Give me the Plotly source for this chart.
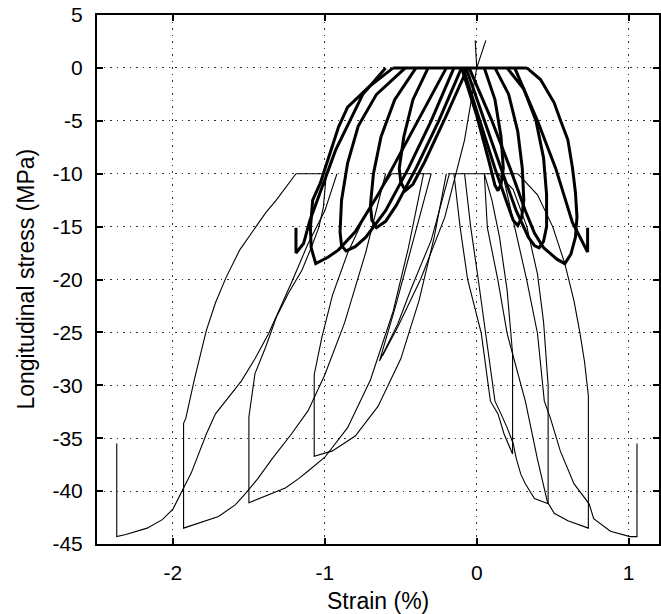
import plotly.graph_objects as go

# ---------------- data (strain %, stress MPa) ----------------
# thin curves
thin_a_x = [-0.92, -1.0, -1.11, -1.22, -1.37, -1.46, -1.55, -1.64, -1.72, -1.78, -1.83, -1.88, -1.93, -1.96, -2.0, -2.07, -2.17, -2.31, -2.37, -2.37]
thin_a_y = [-10, -13.5, -16.6, -20.3, -25.1, -27.5, -29.6, -31.3, -32.7, -34.6, -36.5, -38.3, -39.7, -40.6, -41.7, -42.7, -43.5, -44.1, -44.3, -35.5]

thin_b_x = [-0.6, -0.73, -0.87, -1.0, -1.11, -1.22, -1.35, -1.44, -1.52, -1.59, -1.70, -1.83, -1.93, -1.93, -1.915, -1.86, -1.78, -1.72, -1.65, -1.56, -1.46, -1.39, -1.32, -1.25, -1.19, -0.99]
thin_b_y = [-10, -17.4, -24.1, -29, -32.4, -34.6, -37, -38.8, -40.2, -41.3, -42.4, -43, -43.5, -33.6, -33.1, -29.5, -24.8, -22.2, -19.8, -17.2, -15.1, -13.7, -12.5, -11.1, -10, -10]

thin_c_x = [-0.35, -0.45, -0.55, -0.7, -0.85, -1.0, -1.11, -1.17, -1.26, -1.39, -1.5, -1.5, -1.46, -1.39, -1.32, -1.24, -1.15, -1.09, -1.04, -1.01, -0.99]
thin_c_y = [-10, -17, -23, -29.5, -34, -36.8, -38.1, -38.8, -39.7, -40.5, -41.1, -33, -28.9, -26.4, -23.6, -21.3, -19.1, -17, -15.1, -13.2, -10]

thin_d_x = [-0.2, -0.28, -0.38, -0.5, -0.65, -0.8, -0.95, -1.07, -1.07, -1.02, -0.95, -0.85, -0.72, -0.56]
thin_d_y = [-10, -16, -22, -27.5, -32, -34.8, -36.2, -36.7, -29, -25.5, -21.5, -17.5, -13.5, -10]

thin_e_x = [-0.30, -0.42, -0.53, -0.64, -0.52, -0.43, -0.30, -0.18]
thin_e_y = [-10, -16.5, -22.3, -27.7, -24.2, -20.8, -16.3, -10]

thin_env_x = [0.0, -0.08, -0.21, -0.37, -0.52, -0.62]
thin_env_y = [0.0, -6.8, -14.1, -20.0, -24.5, -27.2]

thin_f_x = [0.17, 0.25, 0.33, 0.40, 0.445, 0.485, 0.55, 0.64, 0.74, 0.77, 0.88, 1.01, 1.055, 1.055]
thin_f_y = [-10, -15.1, -20.1, -25.1, -31.5, -33.1, -36.2, -39.3, -41.2, -42.6, -43.8, -44.3, -44.3, -35.5]

thin_g_x = [0.05, 0.07, 0.14, 0.2, 0.32, 0.40, 0.465, 0.51, 0.6, 0.735, 0.735, 0.71, 0.68, 0.64, 0.58, 0.5, 0.4, 0.27]
thin_g_y = [-10, -15.1, -20.1, -25.1, -31.5, -37, -41, -42.1, -42.8, -43.5, -31, -27.8, -25.1, -22, -18.5, -15, -12, -10]

thin_h_x = [-0.08, -0.04, 0.01, 0.06, 0.12, 0.16, 0.20, 0.24, 0.26, 0.29, 0.32, 0.38, 0.47, 0.47, 0.44, 0.4, 0.33, 0.24, 0.14]
thin_h_y = [-10, -15, -20, -25, -31.5, -32.7, -34, -35.5, -36.9, -38.4, -39.3, -40.7, -41.2, -30, -24, -19.5, -15, -11.5, -10]

thin_i_x = [-0.15, -0.11, -0.06, 0.03, 0.09, 0.14, 0.18, 0.236, 0.236, 0.2, 0.15, 0.1, 0.05]
thin_i_y = [-10, -15, -20, -25.1, -31.5, -32.7, -34.6, -36.5, -27, -21, -16, -12.5, -10]

thin_p1_x = [-0.56, -0.30]
thin_p1_y = [-10, -10]
thin_p2_x = [-0.18, 0.27]
thin_p2_y = [-10, -10]
thin_v_x = [0.06, 0.0, -0.01]
thin_v_y = [2.6, 0.0, 2.6]

# thick curves
thick_tl1_x = [-0.2, -0.35, -0.5, -0.65, -0.8, -0.91, -0.98, -1.06, -1.09, -1.095, -1.08, -1.03, -0.96, -0.91, -0.85, -0.71, -0.55]
thick_tl1_y = [0, -4, -8, -12, -15.5, -17.2, -17.9, -18.5, -17, -15.1, -12.5, -10.9, -7.8, -5.6, -3.7, -1.8, 0]
thick_tl2_x = [-0.15, -0.3, -0.45, -0.6, -0.73, -0.8, -0.86, -0.89, -0.9, -0.89, -0.85, -0.78, -0.66, -0.47]
thick_tl2_y = [0, -5, -9.5, -13.5, -16, -16.9, -17.3, -16.8, -15.5, -12.5, -9, -5.5, -2.5, 0]
thick_tl3_x = [-0.1, -0.25, -0.4, -0.53, -0.6, -0.66, -0.69, -0.7, -0.68, -0.63, -0.54, -0.4]
thick_tl3_y = [0, -5, -9.5, -13, -14.5, -15.1, -14.4, -13, -10, -6.5, -3, 0]
thick_tl4_x = [-0.06, -0.2, -0.34, -0.42, -0.47, -0.5, -0.51, -0.48, -0.42, -0.32]
thick_tl4_y = [0, -4.5, -8.8, -11, -11.6, -10.8, -9.5, -6.5, -3, 0]
thick_tl0_x = [-0.6, -0.75, -0.93, -1.0, -1.1, -1.14, -1.19, -1.19]
thick_tl0_y = [0, -2.5, -7.8, -10.5, -14.5, -16.6, -17.5, -15.1]

thick_tr1_x = [-0.05, 0.1, 0.22, 0.32, 0.38, 0.44, 0.53, 0.58, 0.62, 0.65, 0.66, 0.65, 0.63, 0.6, 0.55, 0.51, 0.42, 0.33]
thick_tr1_y = [0, -5, -9.5, -13.5, -15.6, -17, -18.1, -18.5, -17.6, -16, -14.1, -11.8, -9.4, -6.8, -4.9, -3.3, -1.1, 0]
thick_tr2_x = [-0.07, 0.05, 0.16, 0.26, 0.34, 0.38, 0.41, 0.44, 0.46, 0.46, 0.44, 0.39, 0.31, 0.2]
thick_tr2_y = [0, -5, -9.5, -13.5, -16, -16.8, -17, -16.4, -15, -12, -8.5, -5, -2, 0]
thick_tr3_x = [-0.09, 0.02, 0.12, 0.2, 0.24, 0.27, 0.295, 0.31, 0.3, 0.27, 0.21, 0.12]
thick_tr3_y = [0, -5, -9.5, -12.8, -14.4, -14.9, -14.2, -12.5, -9.5, -6, -2.5, 0]
thick_tr4_x = [-0.1, 0.0, 0.08, 0.12, 0.14, 0.16, 0.175, 0.16, 0.12, 0.05]
thick_tr4_y = [0, -4.5, -8.8, -11.1, -11.6, -11.0, -9.5, -6.5, -3, 0]
thick_tr0_x = [0.25, 0.4, 0.52, 0.63, 0.73, 0.73]
thick_tr0_y = [0, -5, -9.5, -14.6, -17.4, -15.1]
thick_p_x = [-0.55, 0.33]
thick_p_y = [0, 0]

x_ticks = [-2, -1, 0, 1]
x_tick_text = ["-2", "-1", "0", "1"]
y_ticks = [5, 0, -5, -10, -15, -20, -25, -30, -35, -40, -45]
y_tick_text = ["5", "0", "-5", "-10", "-15", "-20", "-25", "-30", "-35", "-40", "-45"]

thin_curves = [
    (thin_a_x, thin_a_y), (thin_b_x, thin_b_y), (thin_c_x, thin_c_y), (thin_d_x, thin_d_y),
    (thin_e_x, thin_e_y), (thin_env_x, thin_env_y), (thin_f_x, thin_f_y), (thin_g_x, thin_g_y),
    (thin_h_x, thin_h_y), (thin_i_x, thin_i_y), (thin_p1_x, thin_p1_y), (thin_p2_x, thin_p2_y),
    (thin_v_x, thin_v_y),
]
thick_curves = [
    (thick_tl1_x, thick_tl1_y), (thick_tl2_x, thick_tl2_y), (thick_tl3_x, thick_tl3_y),
    (thick_tl4_x, thick_tl4_y), (thick_tl0_x, thick_tl0_y),
    (thick_tr1_x, thick_tr1_y), (thick_tr2_x, thick_tr2_y), (thick_tr3_x, thick_tr3_y),
    (thick_tr4_x, thick_tr4_y), (thick_tr0_x, thick_tr0_y), (thick_p_x, thick_p_y),
]


def joined(curves):
    xs, ys = [], []
    for cx, cy in curves:
        xs += list(cx) + [None]
        ys += list(cy) + [None]
    return xs, ys


fig = go.Figure()
tx, ty = joined(thin_curves)
fig.add_trace(go.Scatter(x=tx, y=ty, mode="lines", line=dict(color="black", width=1.1),
                         showlegend=False, hoverinfo="skip"))
kx, ky = joined(thick_curves)
fig.add_trace(go.Scatter(x=kx, y=ky, mode="lines", line=dict(color="black", width=3),
                         showlegend=False, hoverinfo="skip"))

font_family = "Liberation Sans, Arial, Helvetica, sans-serif"
axis_common = dict(
    showline=True, linecolor="black", linewidth=2, mirror="ticks",
    ticks="inside", ticklen=6, tickwidth=2, tickcolor="black",
    showgrid=True, gridcolor="#333", gridwidth=1, griddash="1.5px,5px",
    zeroline=False, tickfont=dict(family=font_family, size=21, color="black"),
)
fig.update_xaxes(range=[-2.5, 1.2], tickmode="array", tickvals=x_ticks, ticktext=x_tick_text,
                 ticklabelstandoff=9, **axis_common)
fig.update_yaxes(range=[-45, 5], tickmode="array", tickvals=y_ticks, ticktext=y_tick_text,
                 ticklabelstandoff=8, **axis_common)
fig.add_annotation(text="Strain (%)", xref="paper", yref="paper", x=0.5, y=-0.108,
                   xanchor="center", yanchor="middle", showarrow=False,
                   font=dict(family=font_family, size=23, color="black"))
fig.add_annotation(text="Longitudinal stress (MPa)", xref="paper", yref="paper", x=-0.128, y=0.5,
                   xanchor="center", yanchor="middle", textangle=-90, showarrow=False,
                   font=dict(family=font_family, size=23, color="black"))
fig.update_layout(width=661, height=614, margin=dict(l=97, r=0, t=15, b=70),
                  paper_bgcolor="white", plot_bgcolor="white")
fig.write_html("out.html")
